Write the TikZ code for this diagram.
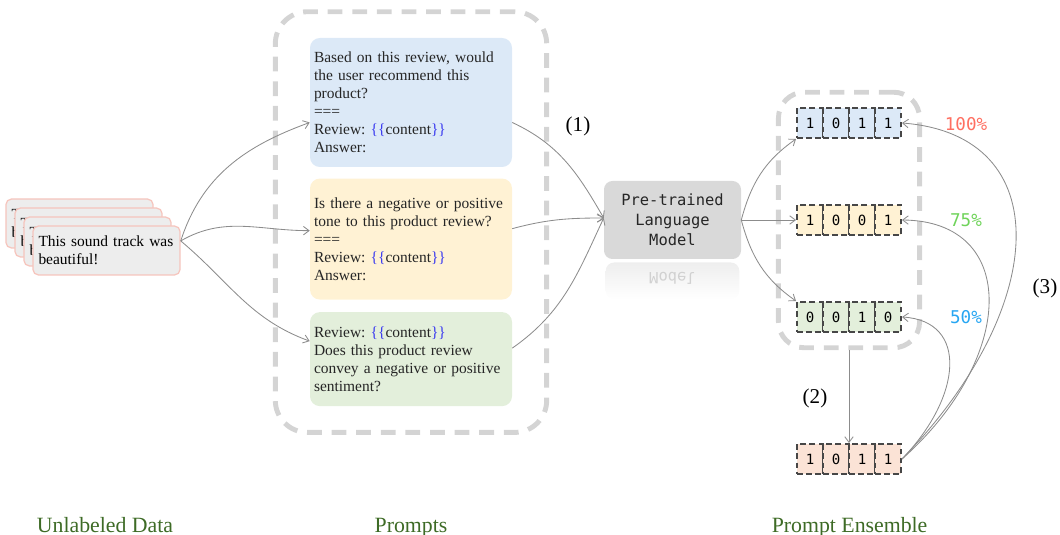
\documentclass[tikz,border=0pt]{standalone}
\usepackage{fontspec}
\setmainfont{Liberation Serif}
\setmonofont{DejaVu Sans Mono}
\usetikzlibrary{arrows.meta,positioning,fit,backgrounds,calc}
\definecolor{pblue}{HTML}{DCE9F7}
\definecolor{pyellow}{HTML}{FFF2D4}
\definecolor{pgreen}{HTML}{E3EFDB}
\definecolor{rpeach}{HTML}{FBE3D6}
\definecolor{slotblue}{HTML}{3A3AF0}
\definecolor{cardline}{HTML}{F6C5BD}
\definecolor{cardfill}{HTML}{EDEDED}
\definecolor{dashgray}{HTML}{D4D4D4}
\definecolor{arrgray}{HTML}{8C8C8C}
\definecolor{bitline}{HTML}{474747}
\definecolor{lmgray}{HTML}{D9D9D9}
\definecolor{pcred}{HTML}{FF6F61}
\definecolor{pcgreen}{HTML}{6FD35A}
\definecolor{pcblue}{HTML}{27A6F2}
\definecolor{footgreen}{HTML}{3E6B26}
\newcommand{\slot}{\textcolor{slotblue}{\{\{}content\textcolor{slotblue}{\}\}}}

\begin{document}
\begin{tikzpicture}[font=\fontsize{11}{12.8}\selectfont\frenchspacing,
  card/.style={draw=cardline,line width=0.9pt,fill=cardfill,rounded corners=4pt,minimum width=3.675cm,minimum height=1.225cm,text width=3.4cm,align=left,inner xsep=0.14cm},
  prm/.style={rounded corners=7pt,minimum width=5.05cm,text width=4.85cm,align=left,inner xsep=0.1cm,text=black!85},
  grp/.style={draw=dashgray,line width=3.5pt,dash pattern=on 10.5pt off 7pt},
  bit/.style={draw=bitline,line width=1.4pt,dash pattern=on 4pt off 2.5pt,minimum width=0.65cm,minimum height=0.75cm,inner sep=0pt,font=\ttfamily\fontsize{10}{12}\selectfont},
  arr/.style={-{Straight Barb[length=4pt,width=6pt]},draw=arrgray,line width=0.6pt},
  lab/.style={font=\fontsize{15}{18}\selectfont},
  pct/.style={font=\ttfamily\fontsize{12.5}{15}\selectfont},
  foot/.style={anchor=base,text=footgreen,font=\fontsize{15.5}{18}\selectfont}]
\useasboundingbox (0,0) rectangle (26.5,-13.375);

% unlabeled data
\node[card] (d1) at (1.9875,-5.5875) {This sound track was\\beautiful!};
\node[card] (d2) at ([shift={(0.225,-0.225)}]d1) {This sound track was\\beautiful!};
\node[card] (d3) at ([shift={(0.225,-0.225)}]d2) {This sound track was\\beautiful!};
\node[card] (d4) at ([shift={(0.225,-0.225)}]d3) {This sound track was\\beautiful!};

% prompts
\node[prm,fill=pblue,minimum height=3.225cm] (p1) at (10.275,-2.5625) {Based on this review, would\\the user recommend this\\product?\\===\\Review: \slot\\Answer:};
\node[prm,fill=pyellow,minimum height=3.025cm,below=0.275cm of p1] (p2) {Is there a negative or positive\\tone to this product review?\\===\\Review: \slot\\Answer:};
\node[prm,fill=pgreen,minimum height=2.35cm,below=0.3cm of p2] (p3) {Review: \slot\\Does this product review\\convey a negative or positive\\sentiment?};
\begin{scope}[on background layer]
\node[grp,rounded corners=0.8cm,fit=(p1)(p3),inner xsep=0.86cm,inner ysep=0.65cm] (pgrp) {};
\end{scope}

% language model
\node[fill=lmgray,rounded corners=6pt,minimum width=3.425cm,minimum height=1.95cm,align=center,text=black!85,font=\ttfamily\fontsize{11}{14.2}\selectfont] (lm) at (16.8125,-5.5) {Pre-trained\\Language\\Model};
\begin{scope}[on background layer]
\shade[top color=lmgray!45,bottom color=white,rounded corners=6pt] ($(lm.south west)+(0.05,-0.08)$) rectangle ($(lm.south east)+(-0.05,-1.0)$);
\end{scope}
\node[yscale=-1,transform shape,text=black!18,font=\ttfamily\fontsize{11}{14.2}\selectfont] (lmr) at (16.8125,-6.95) {Model};

% predictions
\foreach \r/\y/\c/\bits in {r1/-3.075/pblue/{1,0,1,1},r2/-5.5/pyellow/{1,0,0,1},r3/-7.925/pgreen/{0,0,1,0},res/-11.475/rpeach/{1,0,1,1}}
  \foreach \v [count=\i] in \bits
    \node[bit,fill=\c] (\r-\i) at (19.6+0.65*\i,\y) {\v};
\begin{scope}[on background layer]
\node[grp,rounded corners=0.65cm,fit=(r1-1)(r3-4),inner xsep=0.44cm,inner ysep=0.37cm] (ens) {};
\end{scope}

\node[pct,text=pcred] (pc1) at (24.15,-3.1) {100\%};
\node[pct,text=pcgreen] (pc2) at (24.15,-5.5) {75\%};
\node[pct,text=pcblue] (pc3) at (24.15,-7.925) {50\%};

\node[lab] (n1) at (14.45,-3.15) {(1)};
\node[lab] (n2) at (20.375,-9.95) {(2)};
\node[lab] (n3) at (26.125,-7.2) {(3)};

\node[foot] (fdata) at (2.625,-13.3) {Unlabeled Data};
\node[foot] (fprm) at (10.275,-13.3) {Prompts};
\node[foot] (fens) at (21.24,-13.3) {Prompt Ensemble};

% connectors
\coordinate (dout) at ([yshift=0.24cm]d4.east);
\draw[arr] (dout) to[out=72,in=200] ([yshift=-0.5cm]p1.west);
\draw[arr] (dout) to[out=30,in=180] ([yshift=0.21cm]p2.west);
\draw[arr] (dout) to[out=-40,in=160] ([yshift=0.45cm]p3.west);
\draw[arr] ([yshift=-0.5cm]p1.east) to[out=-25,in=120] ([yshift=0.05cm]lm.west);
\draw[arr] ([yshift=0.26cm]p2.east) to[out=15,in=180] ([yshift=0.05cm]lm.west);
\draw[arr] ([yshift=0.275cm]p3.east) to[out=35,in=-115] ([yshift=0.05cm]lm.west);
\draw[arr] (lm.east) to[out=75,in=215] (r1-1.south west);
\draw[arr] (lm.east) -- (r2-1.west);
\draw[arr] (lm.east) to[out=-75,in=145] (r3-1.north west);
\draw[arr] (ens.south) -- (ens.south |- res-2.north);
\draw[arr] (res-4.east) .. controls +(3.7,3.8) and +(3.9,-0.3) .. (r1-4.east);
\draw[arr] (res-4.east) .. controls +(2.875,2.55) and +(2.925,-0.025) .. (r2-4.east);
\draw[arr] (res-4.east) .. controls +(1.5,1.55) and +(1.675,-0.1) .. (r3-4.east);
\end{tikzpicture}
\end{document}
